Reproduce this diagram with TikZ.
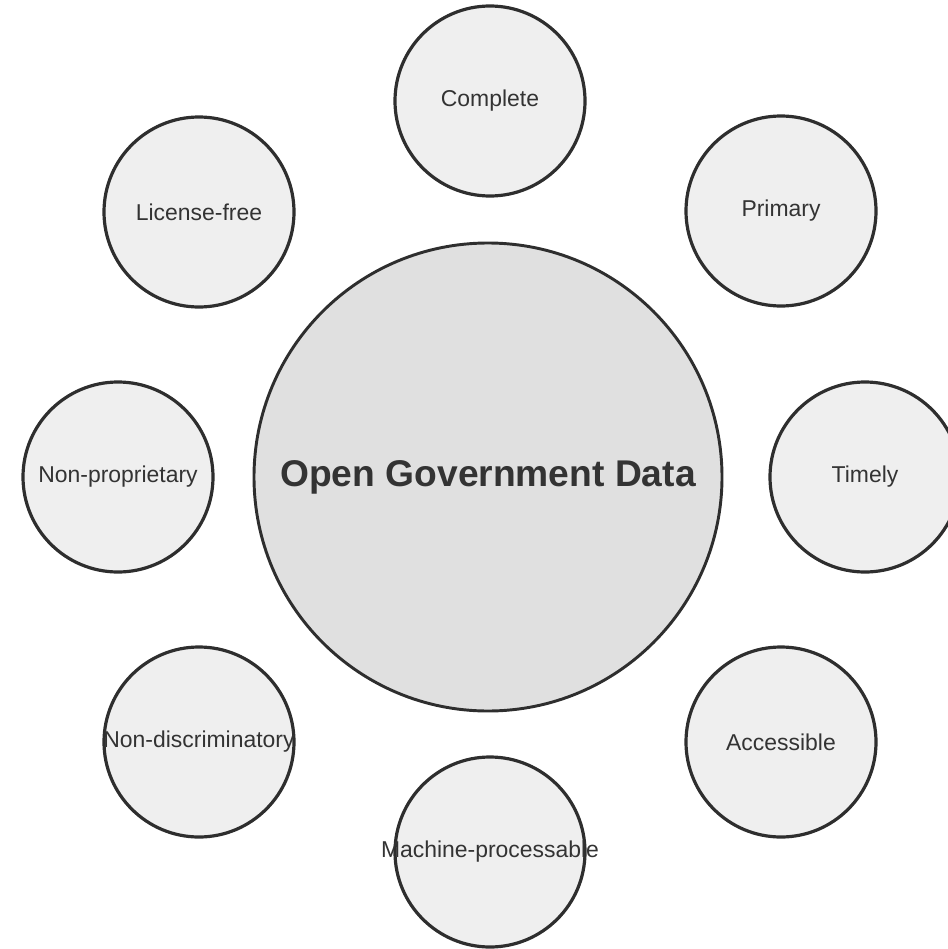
\documentclass[tikz,border=0pt]{standalone}
\usepackage{fontspec}
\setmainfont{Liberation Sans}
\definecolor{ring}{HTML}{2E2E2E}
\definecolor{ink}{HTML}{333333}
\definecolor{hubfill}{HTML}{E0E0E0}
\definecolor{topicfill}{HTML}{EFEFEF}
\tikzset{hub/.style = {circle, draw=ring, line width=2.2pt, fill=hubfill, minimum size=351pt, inner sep=0pt,
                       text=ink, font=\fontsize{27.9}{32}\selectfont\bfseries},
         topic/.style = {circle, draw=ring, line width=2.4pt, fill=topicfill, minimum size=142.5pt, inner sep=0pt},
         topictext/.style = {text=ink, inner sep=0pt, font=\fontsize{17.2}{20}\selectfont}}

\begin{document}
\begin{tikzpicture}[x = 0.75pt, y = -0.75pt]
  \useasboundingbox (0,0) rectangle (948,949);
  \node [hub] (ogd) at (488,477) {Open Government Data};
  % ring of principles
  \node [topic] (complete) at (490,101) {};
  \node [topictext] at (complete) {Complete};
  \node [topic] (primary) at (781,211) {};
  \node [topictext] at (primary) {Primary};
  \node [topic] (timely) at (865,477) {};
  \node [topictext] at (timely) {Timely};
  \node [topic] (accessible) at (781,742) {};
  \node [topictext] at (accessible) {Accessible};
  \node [topic] (machine) at (490,852) {};
  \node [topictext] at (machine) {Machine-processable};
  \node [topic] (nondisc) at (199,742) {};
  \node [topictext] at (nondisc) {Non-discriminatory};
  \node [topic] (nonprop) at (118,477) {};
  \node [topictext] at (nonprop) {Non-proprietary};
  \node [topic] (licfree) at (199,212) {};
  \node [topictext] at (licfree) {License-free};
\end{tikzpicture}
\end{document}
